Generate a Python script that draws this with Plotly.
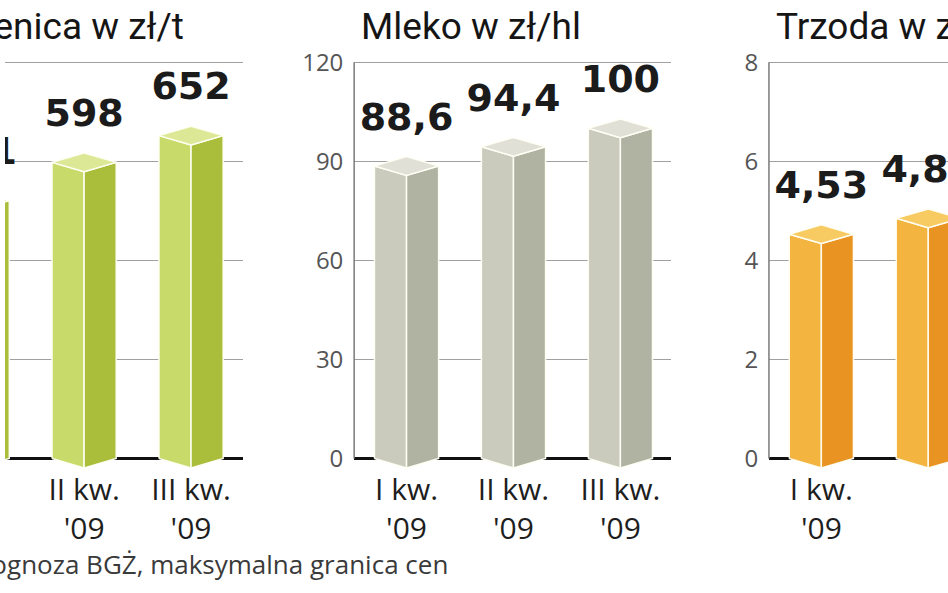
import plotly.graph_objects as go

W, H = 948, 593

# ---------------- data ----------------
quarters = ["I kw.<br>'09", "II kw.<br>'09", "III kw.<br>'09"]

pszenica_vals = [521, 598, 652]
pszenica_labels = ["521", "598", "652"]
pszenica_ticks = [0, 200, 400, 600, 800]

mleko_vals = [88.6, 94.4, 100]
mleko_labels = ["88,6", "94,4", "100"]
mleko_ticks = [0, 30, 60, 90, 120]

trzoda_vals = [4.53, 4.85]
trzoda_labels = ["4,53", "4,85"]
trzoda_ticks = [0, 2, 4, 6, 8]

titles = ["Pszenica w zł/t", "Mleko w zł/hl", "Trzoda w zł/kg"]
source = "Źródło: prognoza BGŻ, maksymalna granica cen"

# ---------------- style ----------------
green = ("#c8da6a", "#aabe3c", "#dde897")
grey = ("#cacbbd", "#b0b3a2", "#e0e0d6")
orange = ("#f3b440", "#e99322", "#f8ca62")

UNIT_PX = 107.5          # px per category step
HALF_W = 0.30            # half bar width (category units)
DEPTH_PX = 9.5           # 3D depth of prism front edge
ZERO_PX, TOP_PX = 461, 60  # pixel rows of 0 and top tick
DOM_TOP, DOM_BOT = 45, 472

panels = [
    dict(vals=pszenica_vals, labels=pszenica_labels, ticks=pszenica_ticks,
         colors=green, px=(0, 239), x0=0.26, title=titles[0], show_axis=False),
    dict(vals=mleko_vals, labels=mleko_labels, ticks=mleko_ticks,
         colors=grey, px=(351, 670), x0=-0.49, title=titles[1], show_axis=True),
    dict(vals=trzoda_vals, labels=trzoda_labels, ticks=trzoda_ticks,
         colors=orange, px=(768, 948), x0=-0.49, title=titles[2], show_axis=True),
]

fig = go.Figure()
layout = dict(
    width=W, height=H, margin=dict(l=0, r=0, t=0, b=0),
    paper_bgcolor="white", plot_bgcolor="white", showlegend=False,
    annotations=[], shapes=[],
)

edge = dict(color="rgba(255,255,245,0.95)", width=1.5)
title_font = dict(family="Roboto", size=37, color="#151515")

for i, p in enumerate(panels, start=1):
    xa = "x" if i == 1 else f"x{i}"
    ya = "y" if i == 1 else f"y{i}"
    top = p["ticks"][-1]
    ppu = (ZERO_PX - TOP_PX) / top
    d = DEPTH_PX / ppu
    xs = list(range(len(p["vals"])))

    left_x, left_y, right_x, right_y, top_x, top_y = [], [], [], [], [], []
    for x, v in zip(xs, p["vals"]):
        left_x += [x - HALF_W, x - HALF_W, x, x, x - HALF_W, None]
        left_y += [0, v, v - d, -d, 0, None]
        right_x += [x, x, x + HALF_W, x + HALF_W, x, None]
        right_y += [-d, v - d, v, 0, -d, None]
        top_x += [x - HALF_W, x, x + HALF_W, x, x - HALF_W, None]
        top_y += [v, v + d, v, v - d, v, None]

    for fx, fy, col in [(left_x, left_y, p["colors"][0]),
                        (right_x, right_y, p["colors"][1]),
                        (top_x, top_y, p["colors"][2])]:
        fig.add_trace(go.Scatter(x=fx, y=fy, xaxis=xa, yaxis=ya, mode="lines",
                                 fill="toself", fillcolor=col, line=edge,
                                 hoverinfo="skip"))

    # value labels
    fig.add_trace(go.Scatter(
        x=xs, y=[v + 27 / ppu for v in p["vals"]], xaxis=xa, yaxis=ya,
        mode="text", text=p["labels"], textposition="top center",
        textfont=dict(family="DejaVu Sans", size=38, color="#1b1b1b", weight="bold"),
        cliponaxis=True, hoverinfo="skip"))

    x_units = (p["px"][1] - p["px"][0]) / UNIT_PX
    layout["xaxis" if i == 1 else f"xaxis{i}"] = dict(
        domain=[p["px"][0] / W, p["px"][1] / W],
        range=[p["x0"], p["x0"] + x_units],
        anchor=ya, showgrid=False, zeroline=False, showline=False,
        tickmode="array", tickvals=list(range(len(quarters))), ticktext=quarters,
        ticks="", tickfont=dict(family="Open Sans", size=30, color="#1e1e1e"),
    )
    layout["yaxis" if i == 1 else f"yaxis{i}"] = dict(
        domain=[1 - DOM_BOT / H, 1 - DOM_TOP / H],
        range=[-(DOM_BOT - ZERO_PX) / ppu, top + (TOP_PX - DOM_TOP) / ppu],
        anchor=xa, tickmode="array", tickvals=p["ticks"],
        ticktext=[str(t) for t in p["ticks"]],
        showgrid=True, gridcolor="#a0a0a0", gridwidth=1,
        zeroline=True, zerolinecolor="#111111", zerolinewidth=3,
        showline=False, ticks="outside", ticklen=5, tickcolor="rgba(0,0,0,0)",
        showticklabels=p["show_axis"],
        tickfont=dict(family="Open Sans", size=24, color="#555555"),
    )
    if p["show_axis"]:
        layout["shapes"].append(dict(
            type="line", xref=f"{xa} domain", yref=ya, x0=0, x1=0,
            y0=p["ticks"][0], y1=top, line=dict(color="#7a7a7a", width=1.5)))

    # titles
    if i == 1:
        layout["annotations"].append(dict(
            text=p["title"], xref="paper", yref="paper",
            x=182 / W, y=1, xanchor="right", yanchor="top", showarrow=False,
            font=title_font))
    else:
        layout["annotations"].append(dict(
            text=p["title"], xref="paper", yref="paper",
            x=(p["px"][0] + 5) / W, y=1, xanchor="left", yanchor="top",
            showarrow=False, font=title_font))

layout["annotations"].append(dict(
    text=source, xref="paper", yref="paper", x=447 / W, y=0,
    xanchor="right", yanchor="bottom", yshift=5, showarrow=False,
    font=dict(family="Open Sans", size=26, color="#3a3a3a")))

fig.update_layout(**layout)
fig.write_html("out.html", config={"displayModeBar": False},
               post_script="document.body.style.margin='0';")
